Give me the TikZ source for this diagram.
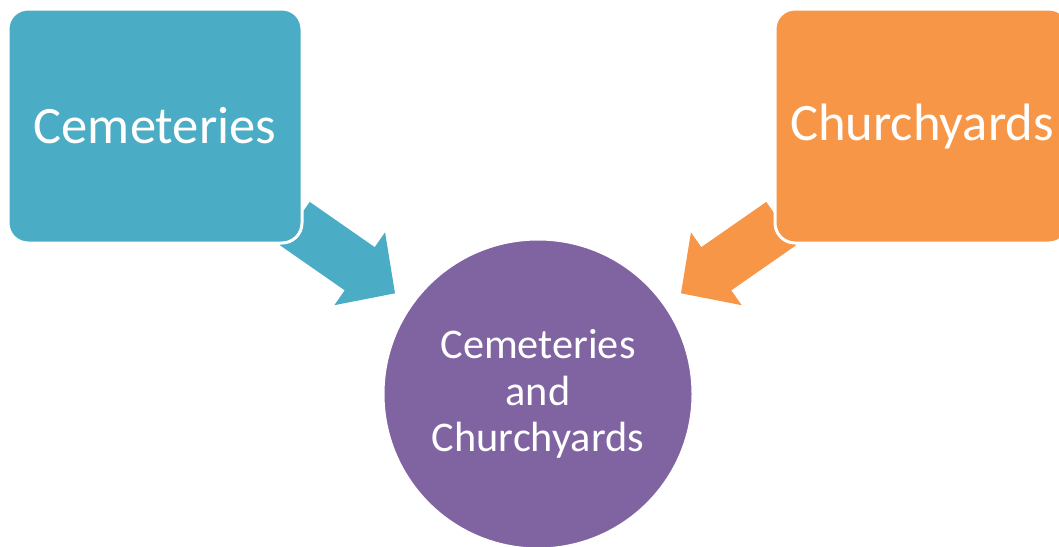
\documentclass[tikz,border=0pt]{standalone}
\usepackage{fontspec}
\setmainfont{Carlito}
\usetikzlibrary{calc,backgrounds}
\definecolor{cteal}{HTML}{4BACC6}
\definecolor{corange}{HTML}{F79646}
\definecolor{cpurple}{HTML}{8064A2}
\newcommand\blockarrow[3]{%
  \coordinate (hb#1) at ($(#2)!43pt!(#1)$);
  \fill[#3] ($(#1)!26.3pt!90:(#2)$) -- ($(hb#1)!26.3pt!-90:(#1)$) -- ($(hb#1)!44.4pt!-90:(#1)$) -- (#2)
    -- ($(hb#1)!44.4pt!90:(#1)$) -- ($(hb#1)!26.3pt!90:(#1)$) -- ($(#1)!26.3pt!-90:(#2)$) -- cycle;}
\begin{document}
\begin{tikzpicture}[x=1pt,y=-1pt,
  boxnode/.style={rectangle, rounded corners=20pt, draw=white, line width=3pt,
    minimum width=294pt, minimum height=234pt, text=white, inner sep=0pt,
    font=\fontsize{52.6}{60}\selectfont},
  roundnode/.style={circle, draw=white, line width=3pt, fill=cpurple, minimum size=310pt,
    text=white, align=center, inner sep=0pt, font=\fontsize{42.3}{46.5}\selectfont}]
\useasboundingbox (0,0) rectangle (1059,546);
\clip (0,0) rectangle (1059,546);
\node[boxnode, fill=cteal] (cem) at (155,126) {Cemeteries};
\node[boxnode, fill=corange] (chu) at (922,126) {Churchyards};
\node[roundnode] (both) at (538,394) {Cemeteries\\and\\Churchyards};
\begin{scope}[on background layer]
  \coordinate (ltail) at (294.7,223.5);
  \coordinate (ltip) at (395,293.3);
  \coordinate (rtail) at (781.3,223.5);
  \coordinate (rtip) at (681,293.3);
  \blockarrow{ltail}{ltip}{cteal}
  \blockarrow{rtail}{rtip}{corange}
\end{scope}
\end{tikzpicture}
\end{document}
